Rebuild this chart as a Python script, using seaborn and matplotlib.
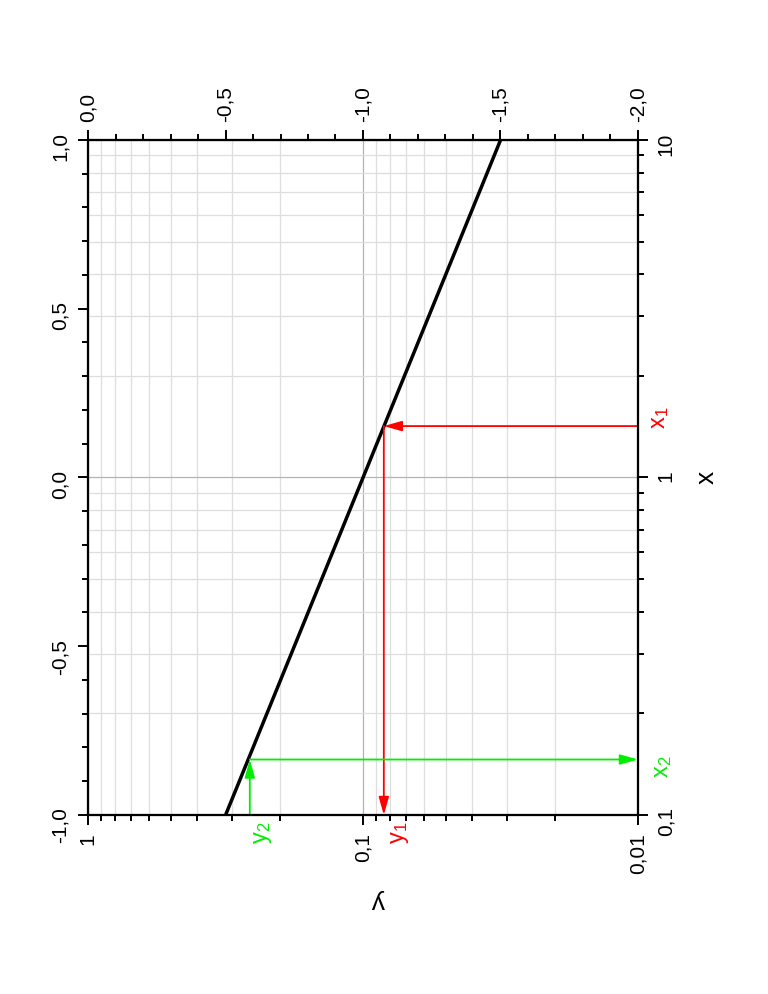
import numpy as np
import matplotlib
import matplotlib.pyplot as plt
from matplotlib.ticker import FixedLocator, LogLocator, MultipleLocator, FuncFormatter, NullFormatter
import seaborn as sns

matplotlib.use("Agg")
sns.set_theme(style="ticks")
plt.rcParams["font.family"] = ["Liberation Sans", "DejaVu Sans"]
plt.rcParams["mathtext.default"] = "regular"

# curve (x on the vertical log axis, y on the horizontal one)
x_vals = [0.1, 10.0]
y_vals = [0.316, 0.0316]

# reading example 1 (red): from x1 to the curve, then down to y1
x1, y1 = 1.42, 0.084
# reading example 2 (green): from y2 to the curve, then across to x2
x2, y2 = 0.146, 0.258

x_lim = (0.1, 10)
y_lim = (1, 0.01)
logx_lim = (-1.0, 1.0)
logy_lim = (0.0, -2.0)

TICK_FS = 15
LABEL_FS = 19
ANN_FS = 17


def _num(v, pos=None):
    return f"{v:g}".replace(".", ",")


def _dec(v, pos=None):
    return f"{v + 0.0:.1f}".replace(".", ",")


fig = plt.figure(figsize=(7.68, 9.94), dpi=100)
ax = fig.add_axes([0.1146, 0.1801, 0.7161, 0.6791])
tw_top = ax.twiny()
tw_left = ax.twinx()

sns.lineplot(x=y_vals, y=x_vals, sort=False, ax=ax, color="black", lw=2.5, zorder=3)

ax.set_xscale("log")
ax.set_yscale("log")
ax.set_xlim(*y_lim)
ax.set_ylim(*x_lim)
ax.yaxis.tick_right()
ax.yaxis.set_label_position("right")
ax.xaxis.tick_bottom()

ax.xaxis.set_major_locator(FixedLocator([1, 0.1, 0.01]))
ax.yaxis.set_major_locator(FixedLocator([0.1, 1, 10]))
for a in (ax.xaxis, ax.yaxis):
    a.set_minor_locator(LogLocator(base=10, subs=np.arange(2, 10)))
    a.set_major_formatter(FuncFormatter(_num))
    a.set_minor_formatter(NullFormatter())

ax.grid(which="minor", color="#dedede", lw=0.9)
ax.grid(which="major", color="#b4b4b4", lw=0.9)
ax.set_axisbelow(True)

tw_top.set_xlim(*logy_lim)
tw_top.xaxis.set_major_locator(MultipleLocator(0.5))
tw_top.xaxis.set_minor_locator(MultipleLocator(0.1))
tw_top.xaxis.set_major_formatter(FuncFormatter(_dec))

tw_left.set_ylim(*logx_lim)
tw_left.yaxis.tick_left()
tw_left.yaxis.set_major_locator(MultipleLocator(0.5))
tw_left.yaxis.set_minor_locator(MultipleLocator(0.1))
tw_left.yaxis.set_major_formatter(FuncFormatter(_dec))

for a in (ax, tw_top, tw_left):
    a.tick_params(which="major", direction="out", length=7.2, width=1.4,
                  labelsize=TICK_FS, pad=6, labelrotation=90, color="black",
                  labelcolor="black")
    a.tick_params(which="minor", direction="out", length=4.3, width=1.4, color="black")
    for s in a.spines.values():
        s.set_linewidth(1.5)
        s.set_color("black")
tw_top.grid(False, which="both")
tw_left.grid(False, which="both")

ax.set_xlabel("y", fontsize=LABEL_FS, rotation=180, color="black")
ax.xaxis.set_label_coords(0.527, -0.11)
ax.set_ylabel("x", fontsize=LABEL_FS, rotation=90, labelpad=14, color="black")


def _arrow(start, end, color):
    ax.annotate("", xy=end, xytext=start, annotation_clip=False,
                arrowprops=dict(arrowstyle="-|>,head_length=0.6,head_width=0.17",
                                color=color, lw=1.3, mutation_scale=18,
                                shrinkA=0, shrinkB=0), zorder=4)


red = "#ff0000"
green = "#00ee00"
_arrow((y_lim[1], x1), (y1, x1), red)
_arrow((y1, x1), (y1, x_lim[0]), red)
_arrow((y2, x_lim[0]), (y2, x2), green)
_arrow((y2, x2), (y_lim[1], x2), green)

ax.text(1.04, 0.588, "x$_{1}$", color=red, fontsize=ANN_FS, rotation=90,
        transform=ax.transAxes, ha="center", va="center")
ax.text(1.045, 0.072, "x$_{2}$", color=green, fontsize=ANN_FS, rotation=90,
        transform=ax.transAxes, ha="center", va="center")
ax.text(0.567, -0.026, "y$_{1}$", color=red, fontsize=ANN_FS, rotation=90,
        transform=ax.transAxes, ha="center", va="center")
ax.text(0.318, -0.026, "y$_{2}$", color=green, fontsize=ANN_FS, rotation=90,
        transform=ax.transAxes, ha="center", va="center")

fig.savefig("out.png", dpi=100)
plt.close(fig)
